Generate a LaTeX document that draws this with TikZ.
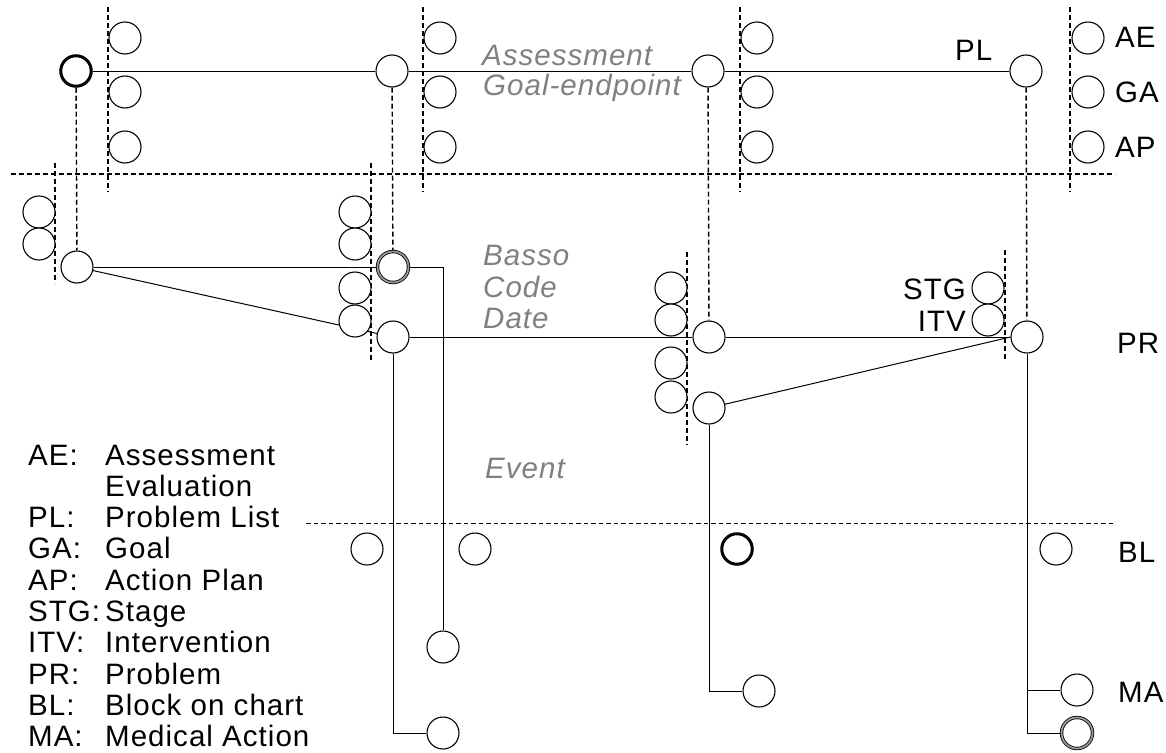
\documentclass[tikz,border=0pt]{standalone}
\usepackage{fontspec}
\setmainfont{Liberation Sans}[LetterSpace=3.5]
\usetikzlibrary{backgrounds}
\newcommand{\bigtxt}{\fontsize{29.5}{31.3}\selectfont}
\tikzset{
  circ/.style={circle,draw=black,line width=1.1pt,fill=white,minimum size=32pt,inner sep=0pt},
  boldcirc/.style={circ,line width=3pt,minimum size=30.5pt},
  graycirc/.style={circ,line width=0.8pt,double=black!40,double distance=1.8pt,minimum size=31pt},
  link/.style={line width=1pt,draw=black},
  guide/.style={line width=1.4pt,dash pattern=on 5pt off 3pt},
  thinguide/.style={line width=1pt,dash pattern=on 4.5pt off 3pt},
  lbl/.style={font=\bigtxt,inner sep=0pt,anchor=base west},
  note/.style={lbl,font=\bigtxt\itshape,text=black!50}
}

\begin{document}
\begin{tikzpicture}[x=1pt,y=-1pt]
  \useasboundingbox (0,0) rectangle (1166,752);
  % top row: AE / GA / AP columns
  \node[boldcirc] (t0) at (76,71) {};
  \node[circ] (t1) at (392,71) {};
  \node[circ] (t2) at (708,71) {};
  \node[circ] (t3) at (1026,71) {};
  \foreach \x [count=\i] in {125,440,757,1088}{
    \foreach \y [count=\j] in {38,92,147} \node[circ] (s\i\j) at (\x,\y) {};
  }
  % problem row
  \node[circ] (b1) at (77,267) {};
  \node[graycirc] (g1) at (393,267) {};
  \node[circ] (p1) at (393,337) {};
  \node[circ] (p2) at (709,337) {};
  \node[circ] (p3) at (1027,337) {};
  \node[circ] (e1) at (709,408) {};
  \foreach \y [count=\j] in {212,244} \node[circ] (k1\j) at (39,\y) {};
  \foreach \y [count=\j] in {212,244,288,321} \node[circ] (k2\j) at (355,\y) {};
  \foreach \y [count=\j] in {288,320,363,397} \node[circ] (k3\j) at (671,\y) {};
  \foreach \y [count=\j] in {288,320} \node[circ] (k4\j) at (988,\y) {};
  % block row and medical actions
  \node[circ] (c1) at (367,549) {};
  \node[circ] (c2) at (475,549) {};
  \node[boldcirc] (c3) at (737,549) {};
  \node[circ] (c4) at (1056,549) {};
  \node[circ] (m1) at (443,647) {};
  \node[circ] (m2) at (443,733) {};
  \node[circ] (m3) at (759,691) {};
  \node[circ] (m4) at (1077,690) {};
  \node[graycirc] (m5) at (1077,733) {};
  \begin{pgfonlayer}{background}
    \foreach \x in {108,423,740,1070} \draw[guide] (\x,7) -- (\x,192);
    \draw[guide] (55,163) -- (55,283);
    \draw[guide] (371,163) -- (371,360);
    \draw[guide] (687,252) -- (687,445);
    \draw[guide] (1005,250) -- (1005,360);
    \draw[guide] (11,174) -- (1115,174);
    \draw[thinguide] (306,523) -- (1115,523);
    \draw[guide] (t0) -- (b1);
    \draw[guide] (t1) -- (g1);
    \draw[guide] (t2) -- (p2);
    \draw[guide] (t3) -- (p3);
    \draw[link] (t0) -- (t1) -- (t2) -- (t3);
    \draw[link] (b1) -- (g1);
    \draw[link] (b1) -- (p1);
    \draw[link] (p1) -- (p2) -- (p3);
    \draw[link] (e1) -- (p3.west);
    \draw[link] (g1) -| (m1);
    \draw[link] (p1) |- (m2);
    \draw[link] (e1) |- (m3);
    \draw[link] (p3) |- (m4);
    \draw[link] (p3) |- (m5);
  \end{pgfonlayer}
  % labels
  \node[lbl] (plL) at (955,60) {PL};
  \node[lbl] (aeL) at (1115,48) {AE};
  \node[lbl] (gaL) at (1115,102) {GA};
  \node[lbl] (apL) at (1115,157) {AP};
  \node[lbl] (prL) at (1117,353) {PR};
  \node[lbl] (blL) at (1118,562) {BL};
  \node[lbl] (maL) at (1118,702) {MA};
  \node[lbl,anchor=base east] (stgL) at (966,299) {STG};
  \node[lbl,anchor=base east] (itvL) at (966,331) {ITV};
  \node[note] (asN) at (482,65) {Assessment};
  \node[note] (geN) at (483,95) {Goal-endpoint};
  \node[note] (bsN) at (483,265) {Basso};
  \node[note] (cdN) at (483,297) {Code};
  \node[note] (dtN) at (483,328) {Date};
  \node[note] (evN) at (485,478) {Event};
  % legend
  \foreach \ab/\txt [count=\i from 0] in {AE:/Assessment, /Evaluation, PL:/Problem List, GA:/Goal, AP:/Action Plan, STG:/Stage, ITV:/Intervention, PR:/Problem, BL:/Block on chart, MA:/Medical Action}{
    \node[lbl] (ab\i) at (28,{465+31.3*\i}) {\ab};
    \node[lbl] (tx\i) at (105,{465+31.3*\i}) {\txt};
  }
\end{tikzpicture}
\end{document}
